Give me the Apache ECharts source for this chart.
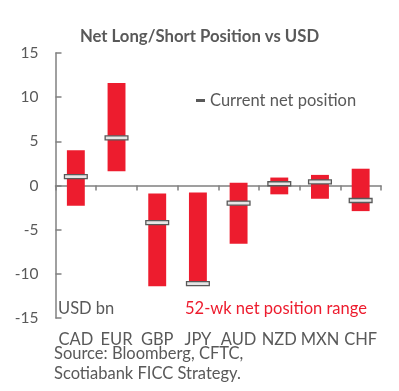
<!DOCTYPE html>
<html>
<head>
<meta charset="utf-8">
<script src="https://cdn.jsdelivr.net/npm/echarts@6/dist/echarts.min.js"></script>
<style>html,body{margin:0;padding:0;background:#fff}#c{width:399px;height:391px}</style>
</head>
<body>
<div id="c"></div>
<script>
var categories = ['CAD','EUR','GBP','JPY','AUD','NZD','MXN','CHF'];
var rangeHigh = [4.0, 11.6, -0.9, -0.8, 0.3, 0.9, 1.2, 1.9];
var rangeLow = [-2.3, 1.6, -11.4, -11.2, -6.6, -1.0, -1.5, -2.9];
var current = [1.0, 5.4, -4.2, -11.1, -2.0, 0.2, 0.4, -1.7];
var yTicks = [-15, -10, -5, 0, 5, 10, 15];

var FONT = 'Lato';
var GREY = '#595959';
var RED = '#ED1C2E';
var FS = 16.5;

var chart = echarts.init(document.getElementById('c'), null, {renderer: 'canvas'});
var rangeData = categories.map(function (c, i) { return [i, rangeLow[i], rangeHigh[i]]; });
var curData = categories.map(function (c, i) { return [i, current[i]]; });

chart.setOption({
  animation: false,
  textStyle: {fontFamily: FONT},
  title: {
    text: 'Net Long/Short Position vs USD',
    left: 'center', top: 23,
    textStyle: {fontFamily: FONT, fontSize: 16.7, fontWeight: 'bold', color: GREY}
  },
  grid: {left: 55.5, right: 18, top: 53, bottom: 73},
  xAxis: [{
    type: 'category', data: categories,
    axisLine: {onZero: true, lineStyle: {color: '#808080', width: 1.5}},
    axisTick: {show: true, length: 5, interval: 0, lineStyle: {color: '#808080', width: 1.5}},
    axisLabel: {show: false}
  }, {
    type: 'category', data: categories, position: 'bottom',
    axisLine: {show: false, onZero: false}, axisTick: {show: false},
    axisLabel: {show: true, interval: 0, margin: 13, fontFamily: FONT, fontSize: FS, color: GREY}
  }],
  yAxis: {
    type: 'value', min: -15, max: 15, interval: 5,
    axisLine: {show: true, lineStyle: {color: '#808080', width: 1.5}},
    axisTick: {show: true, inside: true, length: 6, lineStyle: {color: '#808080', width: 1.5}},
    splitLine: {show: false},
    axisLabel: {margin: 17, fontFamily: FONT, fontSize: 15.5, color: GREY,
      formatter: function (v) { return yTicks.indexOf(v) >= 0 ? String(v) : ''; }}
  },
  series: [{
    type: 'custom', xAxisIndex: 0,
    data: rangeData,
    renderItem: function (params, api) {
      var x = api.value(0);
      var p1 = api.coord([x, api.value(2)]);
      var p2 = api.coord([x, api.value(1)]);
      var w = api.size([1, 0])[0] * 0.44;
      return {type: 'rect', shape: {x: p1[0] - w / 2, y: p1[1], width: w, height: p2[1] - p1[1]},
        style: {fill: RED}};
    }
  }, {
    type: 'custom', xAxisIndex: 0,
    data: curData,
    z: 5,
    renderItem: function (params, api) {
      var x = api.value(0);
      var p = api.coord([x, api.value(1)]);
      var w = api.size([1, 0])[0] * 0.56;
      return {type: 'rect', shape: {x: p[0] - w / 2, y: p[1] - 2, width: w, height: 4},
        style: {fill: '#e6e6e6', stroke: '#595959', lineWidth: 1.3}};
    }
  }],
  graphic: [
    {type: 'rect', left: 196, top: 99, shape: {width: 9, height: 3}, style: {fill: '#595959'}},
    {type: 'text', left: 210, top: 92, style: {text: 'Current net position', font: FS + 'px ' + FONT, fill: GREY}},
    {type: 'text', left: 58, top: 300, style: {text: 'USD bn', font: FS + 'px ' + FONT, fill: GREY}},
    {type: 'text', left: 185, top: 300, style: {text: '52-wk net position range', font: FS + 'px ' + FONT, fill: RED}},
    {type: 'text', left: 54, top: 345, style: {text: 'Source: Bloomberg, CFTC,', font: FS + 'px ' + FONT, fill: GREY}},
    {type: 'text', left: 54, top: 365, style: {text: 'Scotiabank FICC Strategy.', font: FS + 'px ' + FONT, fill: GREY}}
  ]
});
</script>
</body>
</html>
